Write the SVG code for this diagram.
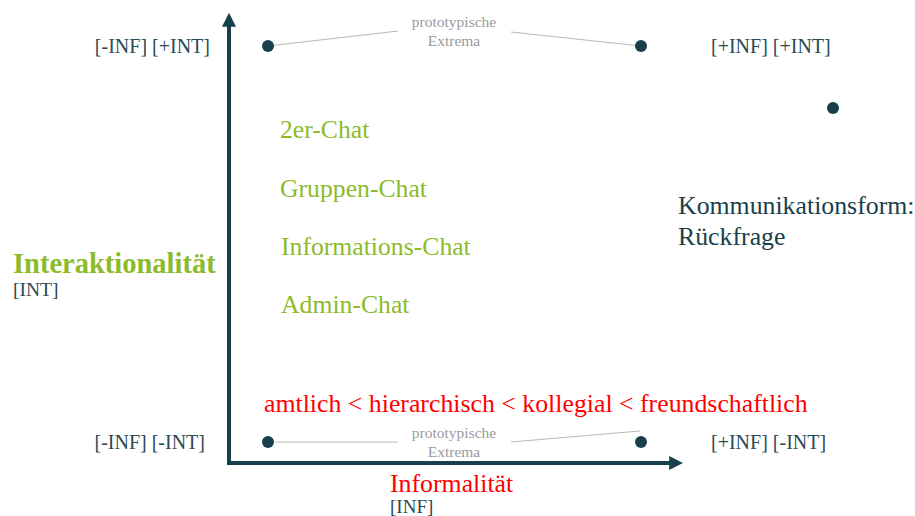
<svg xmlns="http://www.w3.org/2000/svg" width="915" height="516" viewBox="0 0 915 516">
<style>
.lbl{font-size:20px;fill:#2b4a55}
.grn{font-size:25.7px;fill:#8cbb2a}
.gray{font-size:15.5px;fill:#9a9a9a}
.dot{fill:#17404c}
.thin{stroke:#b8b8b8;stroke-width:1;fill:none}
.axis{stroke:#17404c;stroke-width:4;fill:none}
</style>
<defs>
<marker id="ah" viewBox="0 0 10 10" refX="2" refY="5" markerWidth="3.5" markerHeight="3.5" orient="auto">
<path d="M0,0 L10,5 L0,10 z" fill="#17404c"/>
</marker>
</defs>
<rect width="915" height="516" fill="#fff"/>
<g id="connectors">
<path class="axis" d="M229,465 L229,24" marker-end="url(#ah)"/>
<path class="axis" d="M227,463 L672,463" marker-end="url(#ah)"/>
<path class="thin" d="M268,46 L398,31"/>
<path class="thin" d="M511,32 L641,46"/>
<path class="thin" d="M275,442 L398,442"/>
<path class="thin" d="M511,442 L640,431"/>
</g>
<g id="dots">
<circle class="dot" cx="268" cy="46" r="6"/>
<circle class="dot" cx="641" cy="46" r="6"/>
<circle class="dot" cx="833" cy="108" r="6"/>
<circle class="dot" cx="268" cy="442" r="6"/>
<circle class="dot" cx="641" cy="442" r="6"/>
</g>
<g font-family="'Liberation Serif', 'Times New Roman', serif">
<g id="extrema-top"><text class="gray" x="454" y="27" text-anchor="middle">prototypische</text><text class="gray" x="454" y="46" text-anchor="middle">Extrema</text></g>
<g id="extrema-bottom"><text class="gray" x="454" y="438" text-anchor="middle">prototypische</text><text class="gray" x="454" y="457" text-anchor="middle">Extrema</text></g>
<g id="corner-tl"><text class="lbl" x="210" y="53" text-anchor="end">[-INF] [+INT]</text></g>
<g id="corner-tr"><text class="lbl" x="711" y="53">[+INF] [+INT]</text></g>
<g id="corner-bl"><text class="lbl" x="205" y="449" text-anchor="end">[-INF] [-INT]</text></g>
<g id="corner-br"><text class="lbl" x="711" y="449">[+INF] [-INT]</text></g>
<g id="chats">
<text class="grn" x="280" y="138">2er-Chat</text>
<text class="grn" x="280" y="197">Gruppen-Chat</text>
<text class="grn" x="281" y="255">Informations-Chat</text>
<text class="grn" x="281" y="313">Admin-Chat</text>
</g>
<g id="kommunikationsform">
<text x="678" y="214" style="font-size:25.8px;fill:#17404c">Kommunikationsform:</text>
<text x="678" y="245" style="font-size:25.8px;fill:#17404c">Rückfrage</text>
</g>
<g id="y-label">
<text x="13" y="273" style="font-size:28.5px;font-weight:bold;fill:#8cbb2a">Interaktionalität</text>
<text x="13" y="296" style="font-size:19.5px;fill:#2b4a55">[INT]</text>
</g>
<g id="scale">
<text x="264" y="412" style="font-size:25.8px;fill:#ff0000">amtlich &lt; hierarchisch &lt; kollegial &lt; freundschaftlich</text>
</g>
<g id="x-label">
<text x="390" y="492" style="font-size:25.8px;fill:#ff0000">Informalität</text>
<text x="390" y="513" style="font-size:19px;fill:#2b4a55">[INF]</text>
</g>
</g>
</svg>
